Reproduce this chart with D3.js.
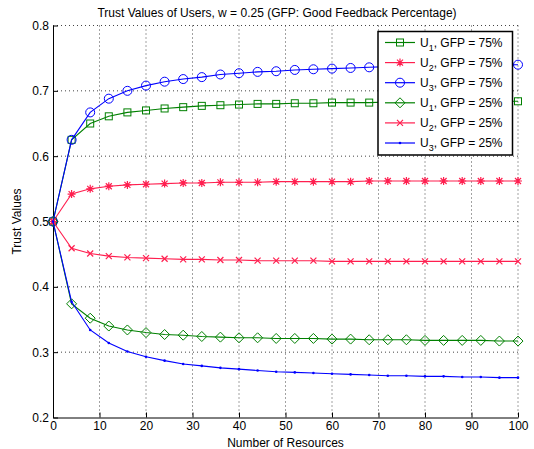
<!DOCTYPE html>
<html>
<head>
<meta charset="utf-8">
<script src="https://cdn.jsdelivr.net/npm/d3@7"></script>
<style>
  body { margin: 0; background: #fff; }
  text { font-family: "Liberation Sans", Arial, sans-serif; }
</style>
</head>
<body>
<div class="chart"></div>
<script>
// data
var resources = [0, 4, 8, 12, 16, 20, 24, 28, 32, 36, 40, 44, 48, 52, 56, 60, 64, 68, 72, 76, 80, 84, 88, 92, 96, 100];
var u1Good = [0.5, 0.625, 0.650, 0.661, 0.667, 0.670, 0.673, 0.675, 0.677, 0.678, 0.679, 0.680, 0.680, 0.681, 0.681, 0.682, 0.682, 0.682, 0.683, 0.683, 0.683, 0.683, 0.684, 0.684, 0.684, 0.684];
var u2Good = [0.5, 0.542, 0.550, 0.554, 0.556, 0.557, 0.558, 0.559, 0.559, 0.560, 0.560, 0.560, 0.561, 0.561, 0.561, 0.561, 0.561, 0.562, 0.562, 0.562, 0.562, 0.562, 0.562, 0.562, 0.562, 0.562];
var u3Good = [0.5, 0.625, 0.667, 0.688, 0.700, 0.708, 0.714, 0.718, 0.721, 0.725, 0.727, 0.729, 0.730, 0.732, 0.733, 0.734, 0.735, 0.736, 0.737, 0.737, 0.738, 0.738, 0.739, 0.739, 0.740, 0.740];
var u1Bad = [0.5, 0.374, 0.352, 0.340, 0.334, 0.330, 0.327, 0.326, 0.324, 0.323, 0.322, 0.322, 0.321, 0.321, 0.321, 0.320, 0.320, 0.319, 0.319, 0.319, 0.318, 0.318, 0.318, 0.318, 0.317, 0.317];
var u2Bad = [0.5, 0.459, 0.451, 0.447, 0.445, 0.444, 0.443, 0.442, 0.442, 0.441, 0.441, 0.440, 0.440, 0.440, 0.440, 0.439, 0.439, 0.439, 0.439, 0.439, 0.439, 0.439, 0.439, 0.439, 0.439, 0.439];
var u3Bad = [0.5, 0.377, 0.334, 0.314, 0.301, 0.293, 0.287, 0.282, 0.279, 0.276, 0.274, 0.272, 0.270, 0.269, 0.268, 0.267, 0.266, 0.265, 0.264, 0.264, 0.263, 0.263, 0.262, 0.262, 0.261, 0.261];
var xTicks = [0, 10, 20, 30, 40, 50, 60, 70, 80, 90, 100];
var yTicks = [0.2, 0.3, 0.4, 0.5, 0.6, 0.7, 0.8];

var green = "#008000", red = "#ff1f4f", blue = "#0000ff";

var series = [
    { user: "1", gfp: "75%", values: u1Good, color: green, marker: "square" },
    { user: "2", gfp: "75%", values: u2Good, color: red, marker: "star" },
    { user: "3", gfp: "75%", values: u3Good, color: blue, marker: "circle" },
    { user: "1", gfp: "25%", values: u1Bad, color: green, marker: "diamond" },
    { user: "2", gfp: "25%", values: u2Bad, color: red, marker: "cross" },
    { user: "3", gfp: "25%", values: u3Bad, color: blue, marker: "dot" }
];

var margin = { top: 25.5, right: 16, bottom: 31.5, left: 53 },
    width = 534 - margin.left - margin.right,
    height = 449 - margin.top - margin.bottom;

var x = d3.scaleLinear().domain([0, 100]).range([0, width]);
var y = d3.scaleLinear().domain([0.2, 0.8]).range([height, 0]);

var svg = d3.select(".chart")
    .append("svg")
    .attr("width", 534)
    .attr("height", 449)
    .append("g")
    .attr("transform", "translate(" + margin.left + "," + margin.top + ")");

// grid
svg.selectAll(".vgrid")
    .data(xTicks.slice(1))
    .enter().append("line")
    .attr("x1", function (d) { return x(d); })
    .attr("x2", function (d) { return x(d); })
    .attr("y1", 0).attr("y2", height)
    .attr("stroke", "#444").attr("stroke-width", 1)
    .attr("stroke-dasharray", "1,3");

svg.selectAll(".hgrid")
    .data(yTicks.slice(1))
    .enter().append("line")
    .attr("y1", function (d) { return y(d); })
    .attr("y2", function (d) { return y(d); })
    .attr("x1", 0).attr("x2", width)
    .attr("stroke", "#444").attr("stroke-width", 1)
    .attr("stroke-dasharray", "1,3");

// axes
var xAxis = svg.append("g")
    .attr("transform", "translate(0," + height + ")")
    .call(d3.axisBottom(x).tickValues(xTicks).tickSize(-5).tickPadding(4).tickSizeOuter(0));

var yAxis = svg.append("g")
    .call(d3.axisLeft(y).tickValues(yTicks).tickFormat(d3.format(".1f")).tickSize(-5).tickPadding(4).tickSizeOuter(0));

[xAxis, yAxis].forEach(function (a) {
    a.selectAll("text").style("font-size", "12px").attr("fill", "#000");
    a.selectAll("line").attr("stroke", "#000");
    a.select(".domain").attr("stroke", "#000");
});

// markers
function drawMarker(g, type, color) {
    if (type === "square") {
        g.append("rect").attr("x", -3.5).attr("y", -3.5).attr("width", 7).attr("height", 7)
            .attr("fill", "none").attr("stroke", color);
    } else if (type === "circle") {
        g.append("circle").attr("r", 4.5).attr("fill", "none").attr("stroke", color);
    } else if (type === "diamond") {
        g.append("path").attr("d", "M0,-5L5,0L0,5L-5,0Z").attr("fill", "none").attr("stroke", color);
    } else if (type === "star") {
        g.append("path").attr("d", "M0,-4V4M-4,0H4M-3,-3L3,3M-3,3L3,-3")
            .attr("stroke", color).attr("stroke-width", 1.2);
    } else if (type === "cross") {
        g.append("path").attr("d", "M-3,-3L3,3M-3,3L3,-3")
            .attr("stroke", color).attr("stroke-width", 1.2);
    } else if (type === "dot") {
        g.append("circle").attr("r", 1.3).attr("fill", color);
    }
}

var line = d3.line()
    .x(function (d, i) { return x(resources[i]); })
    .y(function (d) { return y(d); });

series.forEach(function (s) {
    svg.append("path")
        .datum(s.values)
        .attr("d", line)
        .attr("fill", "none")
        .attr("stroke", s.color)
        .attr("stroke-width", 1.1);
    s.values.forEach(function (v, i) {
        var g = svg.append("g").attr("transform", "translate(" + x(resources[i]) + "," + y(v) + ")");
        drawMarker(g, s.marker, s.color);
    });
});

// title and labels
svg.append("text")
    .attr("x", 224).attr("y", -9)
    .attr("text-anchor", "middle")
    .style("font-size", "12px")
    .text("Trust Values of Users, w = 0.25  (GFP: Good Feedback Percentage)");

svg.append("text")
    .attr("x", width / 2).attr("y", height + 29.5)
    .attr("text-anchor", "middle")
    .style("font-size", "12px")
    .text("Number of Resources");

svg.append("text")
    .attr("transform", "translate(-32," + (height / 2) + ") rotate(-90)")
    .attr("text-anchor", "middle")
    .style("font-size", "12px")
    .text("Trust Values");

// legend
var legend = svg.append("g").attr("transform", "translate(" + (378 - margin.left) + "," + (31.5 - margin.top) + ")");
legend.append("rect")
    .attr("width", 134.5).attr("height", 123.5)
    .attr("fill", "#fff").attr("stroke", "#000").attr("stroke-width", 1.5);

series.forEach(function (s, i) {
    var row = legend.append("g").attr("transform", "translate(0," + (11 + i * 20.1) + ")");
    row.append("line").attr("x1", 7).attr("x2", 37).attr("stroke", s.color).attr("stroke-width", 1.2);
    drawMarker(row.append("g").attr("transform", "translate(22,0)"), s.marker, s.color);
    var t = row.append("text").attr("x", 42).attr("y", 4).style("font-size", "12px");
    t.append("tspan").text("U");
    t.append("tspan").attr("dy", 4).style("font-size", "9px").text(s.user);
    t.append("tspan").attr("dy", -4).text(", GFP = " + s.gfp);
});
</script>
</body>
</html>
